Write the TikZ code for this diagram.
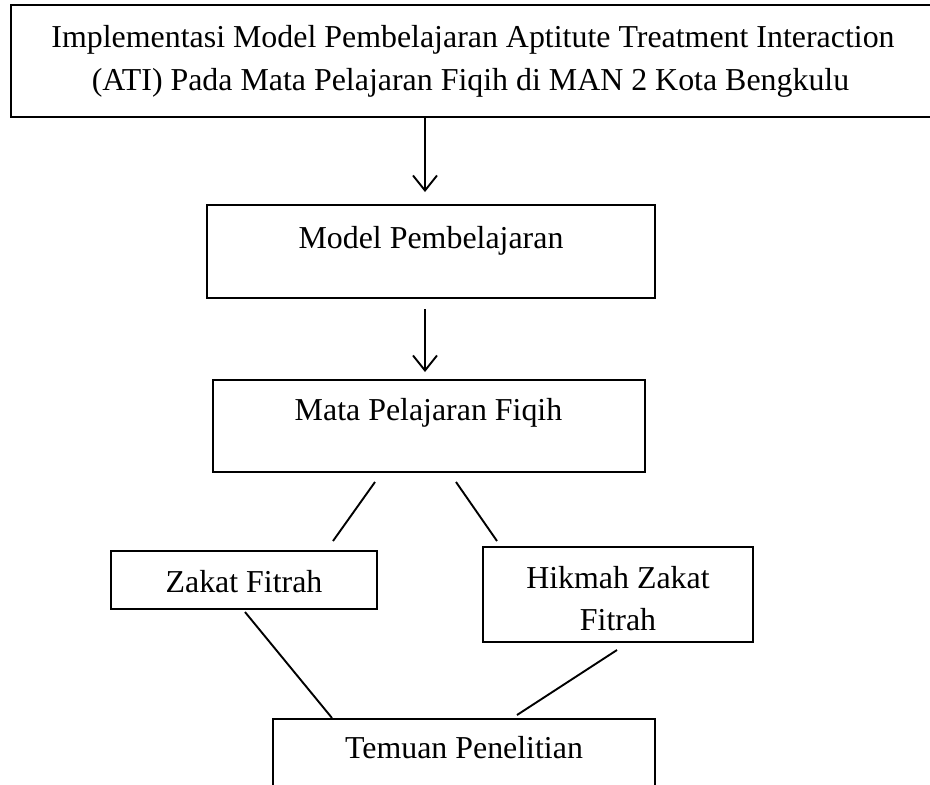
\documentclass[tikz,border=0pt]{standalone}
\usepackage{fontspec}
\setmainfont{Liberation Serif}
\usetikzlibrary{arrows.meta}
\begin{document}
\begin{tikzpicture}[x=1pt,y=-1pt,
  box/.style={draw, line width=2.8pt, rectangle, inner sep=0pt, outer sep=0pt},
  thinbox/.style={draw, line width=2.2pt, rectangle, inner sep=0pt, outer sep=0pt},
  lbl/.style={anchor=base, inner sep=0pt, font=\fontsize{31.9}{42}\selectfont},
  conn/.style={line width=1.9pt},
  arr/.style={line width=1.9pt, -{Straight Barb[length=15pt,width=24pt,line width=1.9pt]}}]
\useasboundingbox (0,0) rectangle (930,785);
% boxes
\node[box, minimum width=929pt, minimum height=112pt] (top) at (475.5,61) {};
\node[box, minimum width=448pt, minimum height=93pt] (model) at (431,251.5) {};
\node[thinbox, minimum width=432pt, minimum height=92pt] (mata) at (429,426) {};
\node[box, minimum width=266pt, minimum height=58pt] (zakat) at (244,580) {};
\node[box, minimum width=270pt, minimum height=95pt] (hikmah) at (618,594.5) {};
\node[box, minimum width=382pt, minimum height=120pt] (temuan) at (464,779) {};
% texts
\node[lbl] (t1) at (473,47) {Implementasi Model Pembelajaran Aptitute Treatment Interaction};
\node[lbl] (t2) at (470.5,90) {(ATI) Pada Mata Pelajaran Fiqih di MAN 2 Kota Bengkulu};
\node[lbl] (tm) at (431,248) {Model Pembelajaran};
\node[lbl] (tp) at (428.5,420) {Mata Pelajaran Fiqih};
\node[lbl] (tz) at (244,592) {Zakat Fitrah};
\node[lbl] (th1) at (618,588) {Hikmah Zakat};
\node[lbl] (th2) at (618,630) {Fitrah};
\node[lbl] (tt) at (464,758) {Temuan Penelitian};
% arrows
\coordinate (ax) at (425,0);
\draw[arr, shorten >=13pt] (top.south -| ax) -- (model.north -| ax);
\draw[arr, shorten <=11pt, shorten >=8pt] (model.south -| ax) -- (mata.north -| ax);
% diagonal connectors
\coordinate (m1) at (375,482);
\coordinate (z1) at (333,541);
\coordinate (m2) at (456,482);
\coordinate (h1) at (497,541);
\coordinate (z2) at (245,612);
\coordinate (e1) at (332,718);
\coordinate (h2) at (617,650);
\coordinate (e2) at (517,715);
\draw[conn] (m1) -- (z1);
\draw[conn] (m2) -- (h1);
\draw[conn] (z2) -- (e1);
\draw[conn] (h2) -- (e2);
\end{tikzpicture}
\end{document}
